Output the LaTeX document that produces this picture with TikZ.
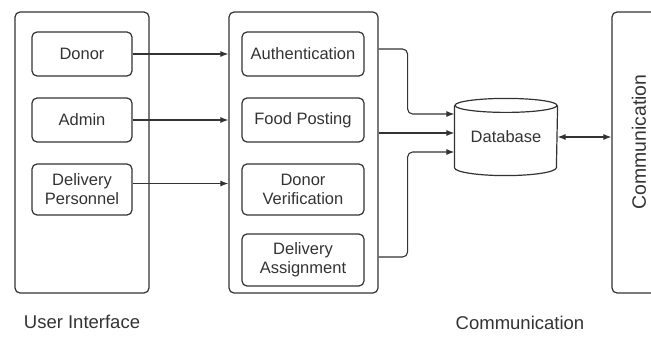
\documentclass[tikz,border=0pt]{standalone}
\usepackage{fontspec}
\setmainfont{Liberation Sans}
\usepackage{tikz}
\usetikzlibrary{arrows.meta, positioning, calc}
\definecolor{lineGray}{HTML}{333333}

\begin{document}
\begin{tikzpicture}[x=1pt,y=1pt,
 panel/.style={rectangle,rounded corners=5pt,draw=lineGray,line width=1.2pt},
 block/.style={rectangle,rounded corners=5pt,draw=lineGray,line width=1.2pt,
 align=center,text=lineGray,font=\fontsize{16.5}{19}\selectfont},
 caption/.style={text=lineGray,font=\fontsize{18.5}{22}\selectfont},
 outline/.style={draw=lineGray,line width=1.2pt},
 arrow/.style={-{Latex[length=8pt,width=6pt]},draw=lineGray,line width=1.1pt,rounded corners=5pt}]
\useasboundingbox (0,0) rectangle (651,338);
\clip (0,0) rectangle (651,338);
% panels
\node[panel,minimum width=134,minimum height=281] (ui) at (82,185.5) {};
\node[panel,minimum width=149,minimum height=281] (svc) at (303.5,185.5) {};
\node[panel,minimum width=88,minimum height=281] (comm) at (656,185.5) {};
% user side
\node[block,minimum width=100,minimum height=44] (donor) at (82,284) {Donor};
\node[block,minimum width=100,minimum height=44] (admin) at (82,218) {Admin};
\node[block,minimum width=100,minimum height=51] (dp) at (82,148.5) {Delivery\\Personnel};
% services
\node[block,minimum width=122,minimum height=44] (auth) at (303,284) {Authentication};
\node[block,minimum width=122,minimum height=44] (food) at (303,218) {Food Posting};
\node[block,minimum width=122,minimum height=51] (verif) at (303,148.5) {Donor\\Verification};
\node[block,minimum width=122,minimum height=52] (assign) at (303,78) {Delivery\\Assignment};
% database
\node[block,draw=none,minimum width=102,minimum height=76] (db) at (506,201) {\raisebox{-5pt}{Database}};
\draw[outline] ($(db.north west)+(0,-7)$) -- ($(db.south west)+(0,8)$)
 arc[start angle=180,end angle=360,x radius=51,y radius=8] -- ($(db.north east)+(0,-7)$);
\draw[outline] ($(db.north)+(0,-7)$) ellipse[x radius=51,y radius=7];
% labels
\node[caption,font=\fontsize{19.4}{22}\selectfont,rotate=90] (commtxt) at (639,196) {Communication};
\node[caption] (uilbl) at (82,16) {User Interface};
\node[caption] (commlbl) at (520,15) {Communication};
% connectors
\draw[arrow] (donor.east) -- (donor.east -| svc.west);
\draw[arrow] (admin.east) -- (admin.east -| svc.west);
\draw[arrow] ($(dp.east)+(0,6)$) -- ($(dp.east -| svc.west)+(0,6)$);
\draw[arrow] ($(svc.east)+(0,103.5)$) -- ++(29,0) |- ($(db.west)+(0,23)$);
\draw[arrow] ($(svc.east)+(0,19.5)$) -- ($(db.west)+(0,4)$);
\draw[arrow] ($(svc.east)+(0,-104.5)$) -- ++(29,0) |- ($(db.west)+(0,-15)$);
\draw[arrow,{Latex[length=8pt,width=6pt]}-{Latex[length=8pt,width=6pt]}] (db.east) -- (db.east -| comm.west);
\end{tikzpicture}
\end{document}
